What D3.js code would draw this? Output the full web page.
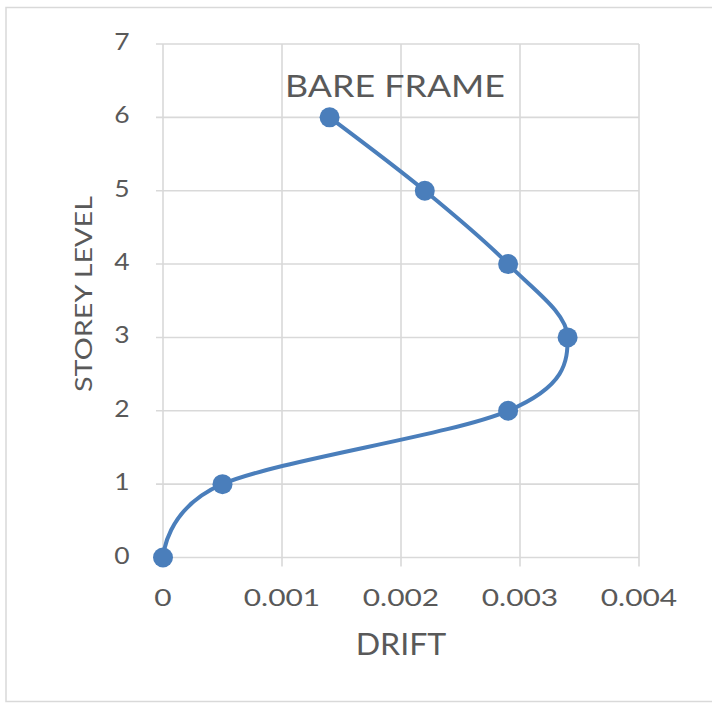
<!DOCTYPE html>
<html><head><meta charset="utf-8">
<script src="https://cdn.jsdelivr.net/npm/d3@7"></script>
<style>body{margin:0;background:#fff}svg{display:block}text{font-family:Lato,"Open Sans",sans-serif;fill:#595959}</style>
</head><body>
<svg id="c" width="712" height="704"></svg>
<script>
const drift = [0, 0.0005, 0.0029, 0.0034, 0.0029, 0.0022, 0.0014];
const storey = [0, 1, 2, 3, 4, 5, 6];
const xTicks = [0, 0.001, 0.002, 0.003, 0.004];
const xTickLabels = ["0", "0.001", "0.002", "0.003", "0.004"];
const yTicks = [0, 1, 2, 3, 4, 5, 6, 7];
const title = "BARE FRAME";
const xTitle = "DRIFT";
const yTitle = "STOREY LEVEL";

const svg = d3.select("#c");
svg.append("rect").attr("x",6).attr("y",7.5).attr("width",720).attr("height",694)
  .attr("fill","#fff").attr("stroke","#d9d9d9").attr("stroke-width",1.5);

const x = d3.scaleLinear().domain([0,0.004]).range([163,639]);
const y = d3.scaleLinear().domain([0,7]).range([557.5,44]);
const grid = "#d9d9d9";

function stretch(sel, k){
  sel.each(function(){
    const w = this.getComputedTextLength();
    d3.select(this).attr("textLength", w*k).attr("lengthAdjust","spacingAndGlyphs");
  });
}

const g = svg.append("g");
g.selectAll(".hg").data(yTicks).join("line")
  .attr("x1",x(0)-7).attr("x2",x(0.004)).attr("y1",d=>y(d)).attr("y2",d=>y(d))
  .attr("stroke",grid).attr("stroke-width",1.6);
g.selectAll(".vg").data(xTicks).join("line")
  .attr("x1",d=>x(d)).attr("x2",d=>x(d)).attr("y1",y(7)).attr("y2",y(0)+9)
  .attr("stroke",grid).attr("stroke-width",1.6);

g.selectAll(".yl").data(yTicks).join("text")
  .attr("x",x(0)-41).attr("y",d=>y(d)+6).attr("text-anchor","middle")
  .attr("font-size",23).text(d=>d).call(stretch,1.15);
g.selectAll(".xl").data(xTicks).join("text")
  .attr("x",d=>x(d)).attr("y",y(0)+48).attr("text-anchor","middle")
  .attr("font-size",23).text((d,i)=>xTickLabels[i]).call(stretch,1.3);

svg.append("text").attr("x",401).attr("y",655).attr("text-anchor","middle")
  .attr("font-size",30).text(xTitle).call(stretch,1.07);
svg.append("text").attr("transform","translate(92,294) rotate(-90)").attr("text-anchor","middle")
  .attr("font-size",24).text(yTitle).attr("textLength",196).attr("lengthAdjust","spacingAndGlyphs");

const data = drift.map((d,i)=>({x:d,y:storey[i]}));
const line = d3.line().x(d=>x(d.x)).y(d=>y(d.y)).curve(d3.curveCatmullRom.alpha(0));
svg.append("path").datum(data).attr("d",line).attr("fill","none")
  .attr("stroke","#4a7ebb").attr("stroke-width",4);
svg.selectAll(".pt").data(data).join("circle")
  .attr("cx",d=>x(d.x)).attr("cy",d=>y(d.y)).attr("r",10).attr("fill","#4a7ebb");

svg.append("text").attr("x",395).attr("y",97).attr("text-anchor","middle")
  .attr("font-size",30).text(title).attr("textLength",220).attr("lengthAdjust","spacingAndGlyphs");
</script>
</body></html>
